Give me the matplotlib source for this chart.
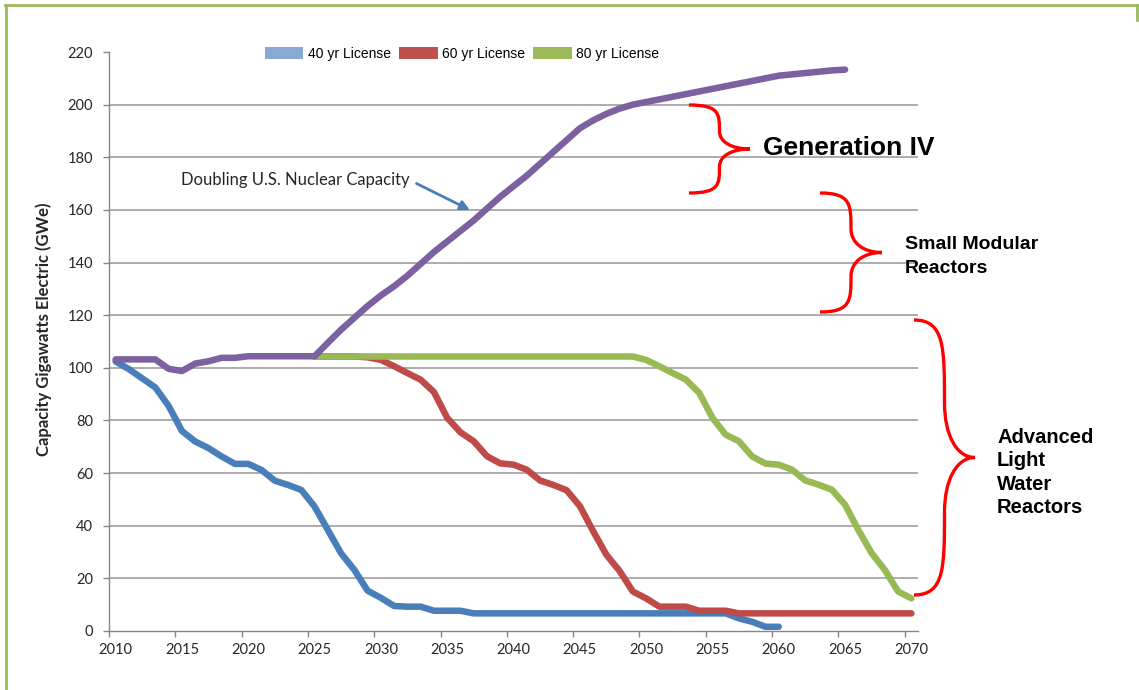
import matplotlib
matplotlib.use("Agg")
import matplotlib.pyplot as plt
from matplotlib.path import Path
from matplotlib.patches import PathPatch, Patch
from matplotlib.lines import Line2D

# data
years_40 = list(range(2010, 2061))
cap_40 = [102.4, 99.5, 96.0, 92.5, 85.5, 76.0, 72.0, 69.5, 66.3, 63.5,
          63.5, 61.2, 57.1, 55.5, 53.6, 47.3, 38.4, 29.5, 23.2, 15.3,
          12.6, 9.5, 9.25, 9.25, 7.7, 7.7, 7.7, 6.7, 6.7, 6.7,
          6.7, 6.7, 6.7, 6.7, 6.7, 6.7, 6.7, 6.7, 6.7, 6.7,
          6.7, 6.7, 6.7, 6.7, 6.7, 6.7, 6.7, 4.8, 3.5, 1.6,
          1.6]

years_60 = list(range(2025, 2071))
cap_60 = [104.3, 104.3, 104.3, 104.3, 104.0, 103.0, 100.6, 98.0, 95.5, 90.8,
          81.0, 75.5, 72.1, 66.4, 63.7, 63.2, 61.3, 57.2, 55.5, 53.5,
          47.5, 38.0, 29.0, 22.8, 15.0, 12.4, 9.25, 9.25, 9.25, 7.7,
          7.7, 7.7, 6.7, 6.7, 6.7, 6.7, 6.7, 6.7, 6.7, 6.7,
          6.7, 6.7, 6.7, 6.7, 6.7, 6.7]

years_80 = list(range(2025, 2071))
cap_80 = [104.3, 104.3, 104.3, 104.3, 104.3, 104.3, 104.3, 104.3, 104.3, 104.3,
          104.3, 104.3, 104.3, 104.3, 104.3, 104.3, 104.3, 104.3, 104.3, 104.3,
          104.3, 104.3, 104.3, 104.3, 104.3, 103.0, 100.6, 98.0, 95.5, 90.5,
          81.0, 74.6, 72.1, 66.3, 63.6, 63.2, 61.3, 57.2, 55.6, 53.7,
          48.0, 38.4, 29.6, 23.2, 15.0, 12.4]

years_dbl = list(range(2010, 2066))
cap_dbl = [103.2, 103.2, 103.2, 103.2, 99.6, 98.8, 101.6, 102.5, 103.8, 103.8,
           104.4, 104.4, 104.4, 104.4, 104.4, 104.4, 109.5, 114.5, 119.0, 123.5,
           127.5, 131.0, 135.0, 139.5, 144.0, 148.0, 152.0, 156.0, 160.5, 165.0,
           169.0, 173.0, 177.5, 182.0, 186.5, 191.0, 194.0, 196.5, 198.5, 200.0,
           201.0, 202.0, 203.0, 204.0, 205.0, 206.0, 207.0, 208.0, 209.0, 210.0,
           211.0, 211.5, 212.0, 212.5, 213.0, 213.3]

legend_labels = ["40 yr License", "60 yr License", "80 yr License"]
x_labels = list(range(2010, 2071, 5))
y_ticks = list(range(0, 221, 20))

W, H = 1139, 690
fig = plt.figure(figsize=(W / 100, H / 100), dpi=100)
fig.patch.set_facecolor("white")


def fx(x):
    return x / W


def fy(y):
    return 1 - y / H


ax = fig.add_axes([fx(109), fy(631), (918 - 109) / W, (631 - 52) / H])

lw = 4.7
kw = dict(lw=lw, solid_capstyle="round", solid_joinstyle="round")
ax.plot(years_40, cap_40, color="#4A7EBB", zorder=3, **kw)
ax.plot(years_60, cap_60, color="#BE4B48", zorder=4, **kw)
ax.plot(years_80, cap_80, color="#98B954", zorder=5, **kw)
ax.plot(years_dbl, cap_dbl, color="#7D60A0", zorder=6, **kw)

ax.set_xlim(2009.5, 2070.5)
ax.set_ylim(0, 220)

tick_font = dict(family="Lato", size=10.5, color="#262626")
ax.set_yticks(y_ticks)
ax.set_yticklabels([str(v) for v in y_ticks], fontdict=tick_font)
ax.set_xticks(x_labels)
ax.set_xticklabels([str(v) for v in x_labels], fontdict=tick_font)
ax.set_xticks([v - 0.5 for v in x_labels], minor=True)
ax.tick_params(axis="x", which="major", length=0, pad=9)
ax.tick_params(axis="x", which="minor", length=4, color="#868686", width=1)
ax.tick_params(axis="y", length=4.5, color="#868686", width=1, pad=7)

ax.yaxis.grid(True, color="#A6A6A6", lw=1.3)
ax.get_ygridlines()[-1].set_visible(False)
ax.get_ygridlines()[0].set_visible(False)
ax.set_axisbelow(True)
for s in ["top", "right"]:
    ax.spines[s].set_visible(False)
for s in ["left", "bottom"]:
    ax.spines[s].set_color("#868686")
    ax.spines[s].set_linewidth(1)

ax.set_ylabel("Capacity Gigawatts Electric (GWe)", family="Lato", weight="bold", size=12, color="#262626")
ax.yaxis.set_label_coords(-0.0705, 0.522)

# legend
handles = [Patch(facecolor="#88A9D4", edgecolor="none"),
           Patch(facecolor="#C0504D", edgecolor="none"),
           Patch(facecolor="#9BBB59", edgecolor="none")]
fig.legend(handles, legend_labels, loc="center", bbox_to_anchor=(fx(462), fy(54)), ncol=3,
           frameon=False, handlelength=2.8, handleheight=0.95, handletextpad=0.3, columnspacing=0.6,
           prop=dict(family=["Liberation Sans Narrow", "Liberation Sans"], size=10))

# doubling annotation
ax.annotate("", xy=(2036.9, 159.5), xytext=(2032.5, 170.5),
            arrowprops=dict(arrowstyle="-|>", color="#4A7EBB", lw=2, mutation_scale=14))
ax.text(2032.2, 171.3, "Doubling U.S. Nuclear Capacity", ha="right", va="center",
        family="Lato", size=12, color="#262626")


def brace(x0, yt, yb, w):
    h = yb - yt
    ym = (yt + yb) / 2
    xm = x0 + w / 2
    pts = [(x0, yt), (x0 + 0.5 * w, yt), (xm, yt + 0.1 * h), (xm, yt + 0.3 * h),
           (xm, ym - 0.08 * h), (xm + 0.2 * w, ym), (x0 + w, ym),
           (xm + 0.2 * w, ym), (xm, ym + 0.08 * h), (xm, yb - 0.3 * h),
           (xm, yb - 0.1 * h), (x0 + 0.5 * w, yb), (x0, yb)]
    verts = [(fx(x), fy(y)) for x, y in pts]
    codes = [Path.MOVETO] + [Path.CURVE4] * 12
    fig.add_artist(PathPatch(Path(verts, codes), transform=fig.transFigure,
                             facecolor="none", edgecolor="#FF0000", lw=2.4))


brace(689, 105, 193, 61)
brace(820, 193, 312, 62)
brace(914, 320, 595, 61)

bold = dict(family="Liberation Sans", weight="bold", color="black")
fig.text(fx(763), fy(148), "Generation IV", ha="left", va="center", size=19, **bold)
fig.text(fx(905), fy(256.5), "Small Modular\nReactors", ha="left", va="center", size=14,
         linespacing=1.5, **bold)
fig.text(fx(997), fy(472.5), "Advanced\nLight\nWater\nReactors", ha="left", va="center", size=14.5,
         linespacing=1.3, **bold)

# slide frame
fig.add_artist(Line2D([fx(5), fx(1137)], [fy(5), fy(5)], transform=fig.transFigure, color="#9BBB59", lw=2))
fig.add_artist(Line2D([fx(5.5), fx(5.5)], [fy(5), fy(690)], transform=fig.transFigure, color="#9BBB59", lw=2))
fig.add_artist(Line2D([fx(1137), fx(1137)], [fy(5), fy(20)], transform=fig.transFigure, color="#9BBB59", lw=2))

fig.savefig("out.png", dpi=100)
